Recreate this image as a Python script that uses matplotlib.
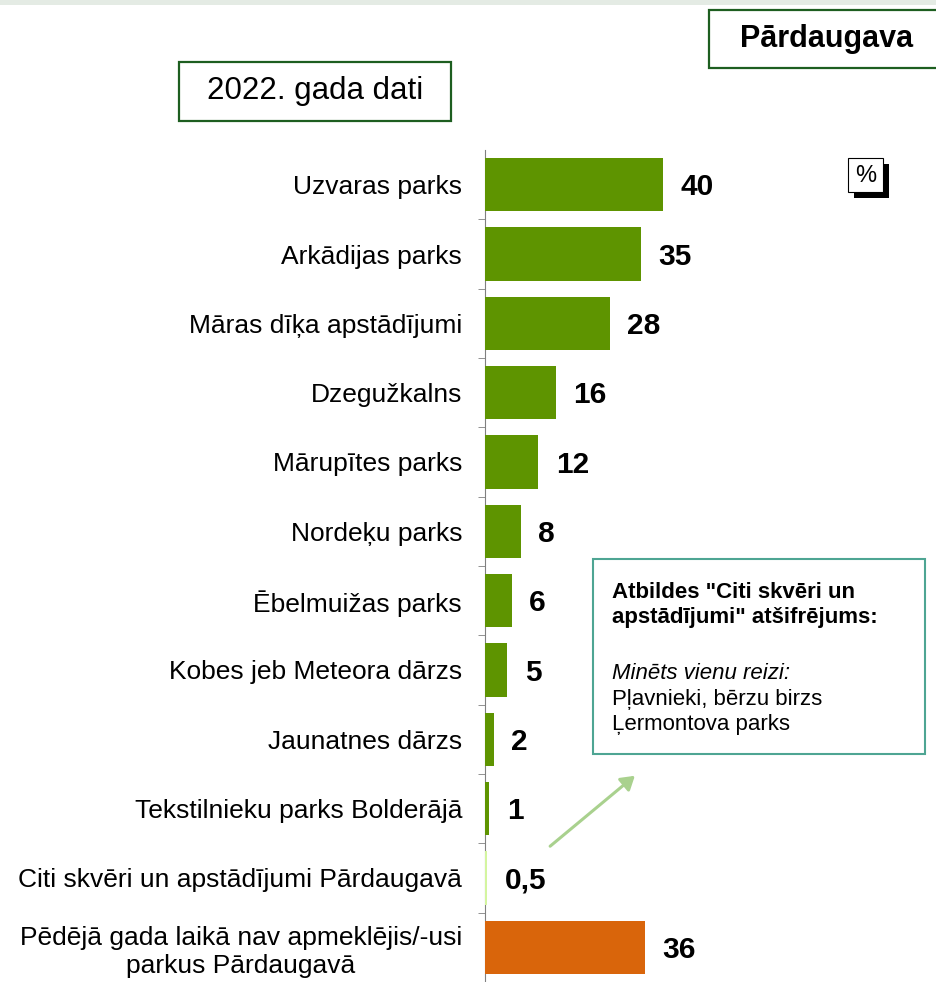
import matplotlib.pyplot as plt
from matplotlib.patches import Rectangle, FancyArrowPatch

plt.rcParams['font.family'] = ['Liberation Sans', 'DejaVu Sans']

categories = [
    "Uzvaras parks",
    "Arkādijas parks",
    "Māras dīķa apstādījumi",
    "Dzegužkalns",
    "Mārupītes parks",
    "Nordeķu parks",
    "Ēbelmuižas parks",
    "Kobes jeb Meteora dārzs",
    "Jaunatnes dārzs",
    "Tekstilnieku parks Bolderājā",
    "Citi skvēri un apstādījumi Pārdaugavā",
    "Pēdējā gada laikā nav apmeklējis/-usi\nparkus Pārdaugavā",
]
values = [40, 35, 28, 16, 12, 8, 6, 5, 2, 1, 0.5, 36]
value_labels = ["40", "35", "28", "16", "12", "8", "6", "5", "2", "1", "0,5", "36"]
bar_colors = ["#5e9400"] * 10 + ["#d4f5a0", "#d9650b"]

W, H = 937, 982
fig = plt.figure(figsize=(W / 100, H / 100), dpi=100)

# top strip
fig.patches.append(Rectangle((0, 1 - 5 / H), 1, 5 / H, transform=fig.transFigure,
                             facecolor="#e4ebe4", edgecolor="none"))

ax = fig.add_axes([485 / W, 0, 1 - 485 / W, 1 - 150 / H])
n = len(categories)
ypos = list(range(n))
ax.barh(ypos, values, height=0.77, color=bar_colors, edgecolor="none", zorder=3)
ax.set_ylim(n - 0.5, -0.5)
ax.set_xlim(0, (W - 485) / 4.45)

for y, v, lab in zip(ypos, values, value_labels):
    ax.annotate(lab, (v, y), xytext=(12.5, -2), textcoords="offset points",
                ha="left", va="center", fontsize=21.5, fontweight="bold")

ax.set_yticks(ypos)
ax.set_yticklabels(categories, fontsize=19)
for t in ax.get_yticklabels():
    t.set_multialignment("center")
ax.tick_params(axis="y", which="major", length=0, pad=16.5)
ax.set_yticks([i + 0.5 for i in range(0, n - 1)], minor=True)
ax.tick_params(axis="y", which="minor", length=5, color="#808080", direction="out")
ax.set_xticks([])
for s in ["top", "right", "bottom"]:
    ax.spines[s].set_visible(False)
ax.spines["left"].set_color("#808080")

# header boxes
def box(x0, y0, x1, y1, text, **kw):
    fig.patches.append(Rectangle((x0 / W, 1 - y1 / H), (x1 - x0) / W, (y1 - y0) / H,
                                 transform=fig.transFigure, facecolor="white",
                                 edgecolor="#1d5e20", linewidth=1.6))
    fig.text((x0 + x1) / 2 / W, 1 - (y0 + y1) / 2 / H, text, ha="center", va="center", **kw)

box(179, 62, 451, 121, "2022. gada dati", fontsize=22.5)
box(709, 10, 945, 68, "Pārdaugava", fontsize=22, fontweight="bold")

# % box with shadow
fig.patches.append(Rectangle((854 / W, 1 - 198 / H), 35 / W, 34 / H, transform=fig.transFigure,
                             facecolor="black", edgecolor="none"))
fig.patches.append(Rectangle((848 / W, 1 - 192 / H), 35 / W, 34 / H, transform=fig.transFigure,
                             facecolor="white", edgecolor="black", linewidth=0.8))
fig.text(865.5 / W, 1 - 176 / H, "%", ha="center", va="center", fontsize=17)

# note box
fig.patches.append(Rectangle((593 / W, 1 - 754 / H), 332 / W, 195 / H, transform=fig.transFigure,
                             facecolor="white", edgecolor="#4ea593", linewidth=1.5))
fig.text(612 / W, 1 - 582 / H, 'Atbildes "Citi skvēri un\napstādījumi" atšifrējums:',
         ha="left", va="top", fontsize=16, fontweight="bold", linespacing=1.25)
fig.text(612 / W, 1 - 663 / H, "Minēts vienu reizi:", ha="left", va="top",
         fontsize=16, style="italic")
fig.text(612 / W, 1 - 689 / H, "Pļavnieki, bērzu birzs\nĻermontova parks", ha="left", va="top",
         fontsize=16, linespacing=1.25)

fig.patches.append(FancyArrowPatch((548 / W, 1 - 848 / H), (637 / W, 1 - 774 / H),
                                   transform=fig.transFigure, arrowstyle="-|>,head_length=8,head_width=5",
                                   color="#a9d18e", linewidth=2.2))

fig.savefig("out.png", dpi=100)
